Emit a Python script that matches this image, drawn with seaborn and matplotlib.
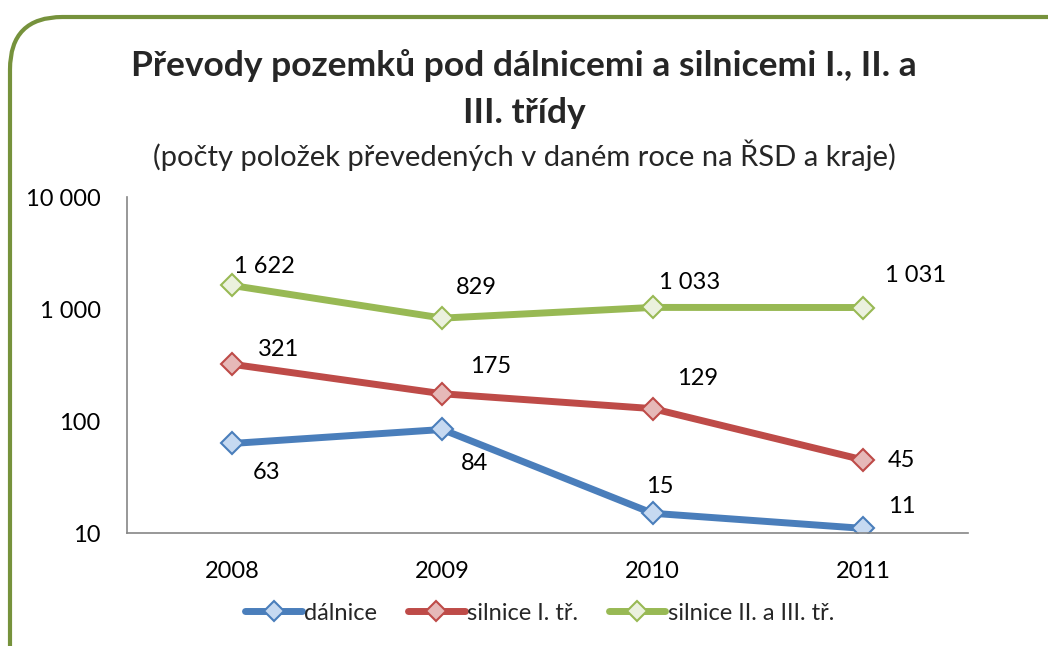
import pandas as pd
import numpy as np
import matplotlib.pyplot as plt
import seaborn as sns
from matplotlib.patches import FancyBboxPatch
from matplotlib.lines import Line2D

sns.set_style("white")
plt.rcParams["font.family"] = ["Lato", "DejaVu Sans"]

# ------------------------------
# Data
# ------------------------------
years = ["2008", "2009", "2010", "2011"]
series_names = ["dálnice", "silnice I. tř.", "silnice II. a III. tř."]
dalnice = [63, 84, 15, 11]
silnice_1 = [321, 175, 129, 45]
silnice_2_3 = [1622, 829, 1033, 1031]
ytick_values = [10, 100, 1000, 10000]
ytick_labels = ["10", "100", "1 000", "10 000"]

title = "Převody pozemků pod dálnicemi a silnicemi I., II. a\nIII. třídy"
subtitle = "(počty položek převedených v daném roce na ŘSD a kraje)"

line_colors = ["#4A7EBB", "#BE4B48", "#98B954"]
face_colors = ["#C6D9F1", "#E6B9B8", "#EBF1DE"]

# label offsets in pixels (dx, dy) per series / year
label_offsets = [
    [(34, -29), (32, -34), (7, 27), (39, 22)],
    [(46, 15), (48, 27), (45, 30), (39, -1)],
    [(32, 19), (34, 31), (37, 25), (53, 32)],
]

df = pd.DataFrame({
    "pos": list(range(len(years))) * 3,
    "value": dalnice + silnice_1 + silnice_2_3,
    "series": np.repeat(series_names, len(years)),
})

# ------------------------------
# Plot
# ------------------------------
fig = plt.figure(figsize=(10.48, 6.46), dpi=100)
ax = fig.add_axes([127 / 1048, 1 - 533 / 646, (968 - 127) / 1048, (533 - 197) / 646])

for i, name in enumerate(series_names):
    sub = df[df["series"] == name]
    sns.lineplot(data=sub, x="pos", y="value", ax=ax, color=line_colors[i],
                 linewidth=5, marker="D", markersize=11,
                 markerfacecolor=face_colors[i], markeredgecolor=line_colors[i],
                 markeredgewidth=1.5, legend=False)
    for j, v in enumerate(sub["value"]):
        dx, dy = label_offsets[i][j]
        ax.annotate(f"{v:,}".replace(",", " "), (j, v), xytext=(dx, dy),
                    textcoords="offset pixels", ha="center", va="center",
                    fontsize=17, color="black")

ax.set_yscale("log")
ax.set_ylim(10, 10000)
ax.set_xlim(-0.5, 3.5)
ax.set_yticks(ytick_values)
ax.set_yticklabels(ytick_labels)
ax.yaxis.set_minor_locator(plt.NullLocator())
ax.set_xticks(range(len(years)))
ax.set_xticklabels(years)
ax.tick_params(axis="both", length=0, labelsize=17, colors="black")
ax.tick_params(axis="y", pad=19)
ax.tick_params(axis="x", pad=20)
ax.set_xlabel("")
ax.set_ylabel("")
ax.grid(False)
for s in ["top", "right"]:
    ax.spines[s].set_visible(False)
for s in ["left", "bottom"]:
    ax.spines[s].set_color("#868686")
    ax.spines[s].set_linewidth(1.2)

fig.text(0.5, 1 - 89 / 646, title, ha="center", va="center",
         fontsize=25.5, fontweight="bold", linespacing=1.55)
fig.text(0.5, 1 - 155 / 646, subtitle, ha="center", va="center", fontsize=21)

handles = [Line2D([], [], color=line_colors[i], linewidth=5, marker="D",
                  markersize=10, markerfacecolor=face_colors[i],
                  markeredgecolor=line_colors[i], markeredgewidth=1.5)
           for i in range(3)]
fig.legend(handles, series_names, loc="center", bbox_to_anchor=(0.515, 1 - 613 / 646),
           ncol=3, frameon=False, fontsize=17, handlelength=2.4, handletextpad=0.1,
           columnspacing=1.3)

border = FancyBboxPatch((10 / 1048, -0.2), 1.2, 1 - 17 / 646 + 0.2,
                        boxstyle="round,pad=0,rounding_size=0.05",
                        transform=fig.transFigure, fill=False,
                        edgecolor="#76923C", linewidth=3, clip_on=False,
                        mutation_aspect=1048 / 646)
fig.patches.append(border)

fig.savefig("out.png", dpi=100)
